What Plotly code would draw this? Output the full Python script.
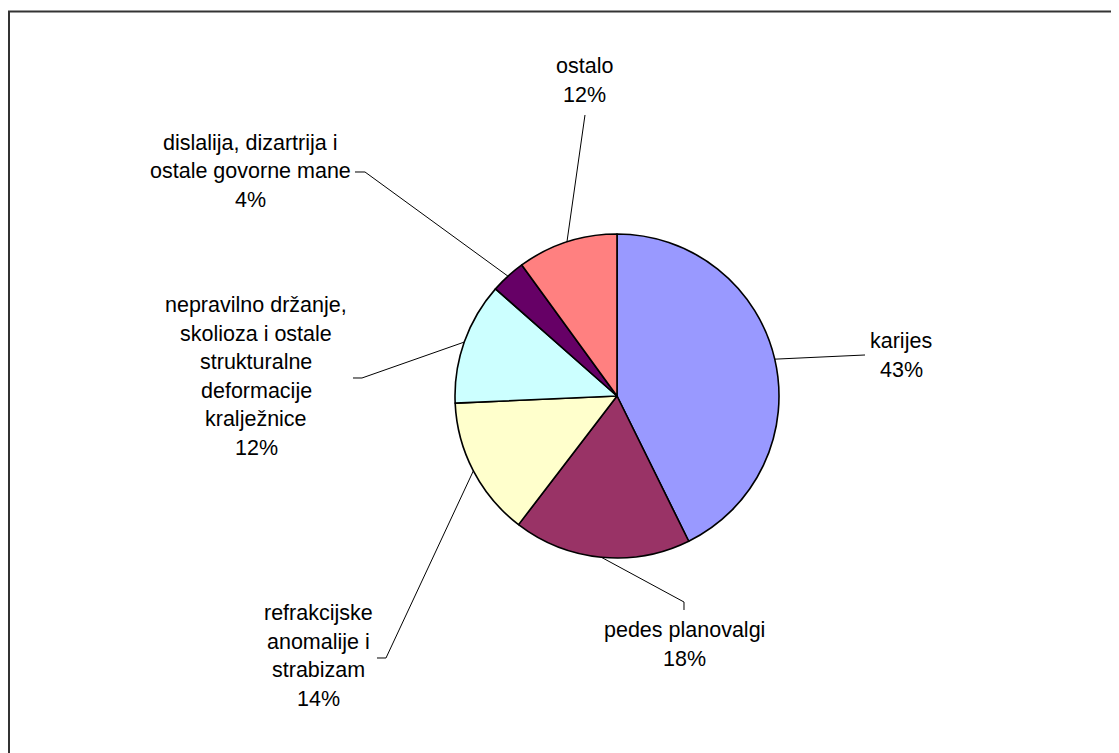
import math
import plotly.graph_objects as go

# data (clockwise from 12 o'clock)
categories = [
    "karijes",
    "pedes planovalgi",
    "refrakcijske anomalije i strabizam",
    "nepravilno držanje, skolioza i ostale strukturalne deformacije kralježnice",
    "dislalija, dizartrija i ostale govorne mane",
    "ostalo",
]
shares = [42.7, 17.7, 13.9, 12.2, 3.5, 10.0]
pct_labels = ["43%", "18%", "14%", "12%", "4%", "12%"]
label_lines = [
    ["karijes"],
    ["pedes planovalgi"],
    ["refrakcijske", "anomalije i", "strabizam"],
    ["nepravilno držanje,", "skolioza i ostale", "strukturalne", "deformacije", "kralježnice"],
    ["dislalija, dizartrija i", "ostale govorne mane"],
    ["ostalo"],
]
colors = ["#9999FF", "#993366", "#FFFFCC", "#CCFFFF", "#660066", "#FF8080"]

# page pixels; the plot div sits 8px in from the page corner
OFF = 8
FW, FH = 1119 - OFF, 753 - OFF
CX, CY, R = 617, 396, 162
LINE_GAP = 28.5

# label layout (page pixels): centre x, first line y, leader polyline from label side
label_pos = [
    (901, 341, [(865, 355)]),
    (684, 630, [(684, 610), (684, 602)]),
    (318, 613, [(377, 658), (386, 658)]),
    (256, 305, [(353, 378), (362, 378)]),
    (250, 143, [(355, 172), (365, 172)]),
    (585, 66, [(585, 115)]),
]


def px(x):
    return (x - OFF) / FW


def py(y):
    return 1 - (y - OFF) / FH


fig = go.Figure(go.Pie(
    labels=categories,
    values=shares,
    sort=False,
    direction="clockwise",
    rotation=0,
    textinfo="none",
    hoverinfo="skip",
    marker=dict(colors=colors, line=dict(color="black", width=1.6)),
    domain=dict(x=[px(CX - R), px(CX + R)], y=[py(CY + R), py(CY - R)]),
    showlegend=False,
))

font = dict(family="Liberation Sans, Arial, sans-serif", size=21.5, color="black")
annotations = []
shapes = []
total = sum(shares)
cum = 0
for i, v in enumerate(shares):
    mid = 2 * math.pi * (cum + v / 2) / total
    cum += v
    ex, ey = CX + R * math.sin(mid), CY - R * math.cos(mid)
    lx, ly, conn = label_pos[i]
    lines = label_lines[i] + [pct_labels[i]]
    for k, t in enumerate(lines):
        annotations.append(dict(
            x=px(lx), y=py(ly + k * LINE_GAP), xref="paper", yref="paper",
            text=t, showarrow=False, xanchor="center", yanchor="middle", font=font,
        ))
    pts = conn + [(ex, ey)]
    path = "M " + " L ".join(f"{px(a):.5f},{py(b):.5f}" for a, b in pts)
    shapes.append(dict(type="path", path=path, xref="paper", yref="paper",
                       line=dict(color="black", width=1)))

# outer chart frame (runs off the right and bottom edges)
shapes.append(dict(type="rect", xref="paper", yref="paper",
                   x0=px(9), y0=py(11.5), x1=px(1140), y1=py(780),
                   line=dict(color="#333333", width=2)))

fig.update_layout(
    width=FW, height=FH,
    margin=dict(l=0, r=0, t=0, b=0),
    paper_bgcolor="white",
    plot_bgcolor="white",
    annotations=annotations,
    shapes=shapes,
)
fig.write_html("out.html")
